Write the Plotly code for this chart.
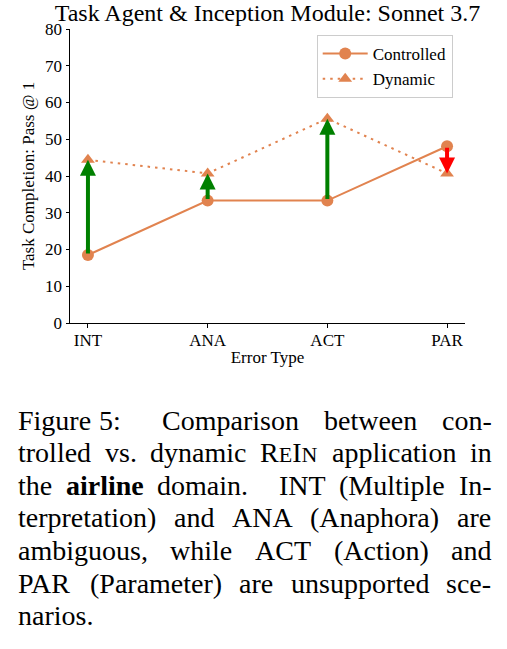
import plotly.graph_objects as go

# ---------------- data ----------------
categories = ["INT", "ANA", "ACT", "PAR"]
controlled = [18.5, 33.3, 33.3, 48.1]
dynamic = [44.4, 40.7, 55.6, 40.7]
y_ticks = [0, 10, 20, 30, 40, 50, 60, 70, 80]

title_text = "Task Agent &amp; Inception Module: Sonnet 3.7"
x_title = "Error Type"
y_title = "Task Completion: Pass @ 1"

caption_lines = [
    ["Figure", "5:", "Comparison", "between", "con-"],
    ["trolled", "vs.", "dynamic", "REIN", "application", "in"],
    ["the", "*airline*", "domain.", "INT", "(Multiple", "In-"],
    ["terpretation)", "and", "ANA", "(Anaphora)", "are"],
    ["ambiguous,", "while", "ACT", "(Action)", "and"],
    ["PAR", "(Parameter)", "are", "unsupported", "sce-"],
    ["narios."],
]
gap_weights = {0: [0.33, 1.7, 1, 1], 2: [1, 1, 2.3, 1, 1]}

# ---------------- style ----------------
ORANGE = "#E1834F"
FONT = "Liberation Serif, Times New Roman, serif"
W, H = 507, 649
L, R, T, B = 70, 42, 29, 326
PW, PH = W - L - R, H - T - B


def px(x):
    return (x - L) / PW


def py(y):
    return (H - B - y) / PH


fig = go.Figure()
xs = list(range(len(categories)))
fig.add_trace(go.Scatter(
    x=xs, y=controlled, name="Controlled", mode="lines+markers",
    line=dict(color=ORANGE, width=2),
    marker=dict(symbol="circle", size=12, color=ORANGE),
))
fig.add_trace(go.Scatter(
    x=xs, y=dynamic, name="Dynamic", mode="lines+markers",
    line=dict(color=ORANGE, width=2, dash="2.5px,5px"),
    marker=dict(symbol="triangle-up", size=12, color=ORANGE),
))

# arrows controlled -> dynamic
for i, (c, d) in enumerate(zip(controlled, dynamic)):
    col = "#008000" if d > c else "#FF0000"
    fig.add_annotation(
        x=xs[i], y=d, ax=xs[i], ay=c, xref="x", yref="y", axref="x", ayref="y",
        showarrow=True, arrowhead=2, arrowsize=0.8, arrowwidth=4,
        arrowcolor=col, text="", standoff=0,
    )

# ---------------- caption ----------------
REG = {' ': 250, '(': 333, ')': 333, ',': 250, '-': 333, '.': 250, ':': 278,
       '5': 500, 'A': 722, 'C': 667, 'E': 611, 'F': 556, 'I': 333, 'M': 889,
       'N': 722, 'P': 556, 'R': 667, 'T': 611, 'a': 444, 'b': 500, 'c': 444,
       'd': 500, 'e': 444, 'g': 500, 'h': 500, 'i': 278, 'l': 278, 'm': 778,
       'n': 500, 'o': 500, 'p': 500, 'r': 333, 's': 389, 't': 278, 'u': 500,
       'v': 500, 'w': 722, 'y': 500}
BOLD = {'a': 500, 'i': 278, 'r': 444, 'l': 278, 'n': 556, 'e': 444}
FS = 28
SC = 22


def word_info(w):
    if w.startswith('*'):
        t = w.strip('*')
        return "<b>%s</b>" % t, sum(BOLD[ch] for ch in t) * FS / 1000
    if w == "REIN":
        html = ("R<span style='font-size:%dpx'>E</span>I"
                "<span style='font-size:%dpx'>N</span>" % (SC, SC))
        wd = (REG['R'] * FS + REG['E'] * SC + REG['I'] * FS + REG['N'] * SC) / 1000
        return html, wd
    return w, sum(REG[ch] for ch in w) * FS / 1000


LEFT, RIGHT = 16.7, 490.5
BASE0, LSTEP = 429.5, 32.6
for li, words in enumerate(caption_lines):
    infos = [word_info(w) for w in words]
    total = sum(wd for _, wd in infos)
    n = len(words)
    if li == len(caption_lines) - 1 or n == 1:
        gaps = [REG[' '] * FS / 1000] * max(n - 1, 0)
    else:
        wts = gap_weights.get(li, [1] * (n - 1))
        unit = (RIGHT - LEFT - total) / sum(wts)
        gaps = [unit * wt for wt in wts]
    x = LEFT
    yc = BASE0 + li * LSTEP - 9.5
    for k, (html, wd) in enumerate(infos):
        fig.add_annotation(
            x=px(x), y=py(yc), xref="paper", yref="paper", text=html,
            showarrow=False, xanchor="left", yanchor="middle", borderpad=0,
            font=dict(family=FONT, size=FS, color="black"),
        )
        x += wd + (gaps[k] if k < len(gaps) else 0)

fig.update_layout(
    width=W, height=H,
    margin=dict(l=L, r=R, t=T, b=B, autoexpand=False),
    paper_bgcolor="white", plot_bgcolor="white",
    font=dict(family=FONT, size=17, color="black"),
    title=dict(text=title_text, x=0.5, xref="paper", xanchor="center",
               y=1 - 13 / H, yref="container", yanchor="middle",
               font=dict(family=FONT, size=24, color="black")),
    showlegend=True,
    legend=dict(x=px(316.7), y=py(35), xanchor="left", yanchor="top",
                bgcolor="white", bordercolor="#CCCCCC", borderwidth=1,
                font=dict(family=FONT, size=17, color="black"),
                itemwidth=45),
    xaxis=dict(range=[-0.15, 3.15], tickvals=xs, ticktext=categories,
               showgrid=False, zeroline=False, showline=True, linecolor="black",
               linewidth=1, ticks="outside", ticklen=3.5, tickwidth=1,
               tickcolor="black", tickfont=dict(size=17), ticklabelstandoff=-2,
               title=dict(text=x_title, font=dict(size=17), standoff=2)),
    yaxis=dict(range=[0, 80], tickvals=y_ticks, showgrid=False, zeroline=False,
               showline=True, linecolor="black", linewidth=1, ticks="outside",
               ticklen=3.5, tickwidth=1, tickcolor="black",
               tickfont=dict(size=17),
               title=dict(text=y_title, font=dict(size=17), standoff=6)),
)

fig.write_html("out.html")
